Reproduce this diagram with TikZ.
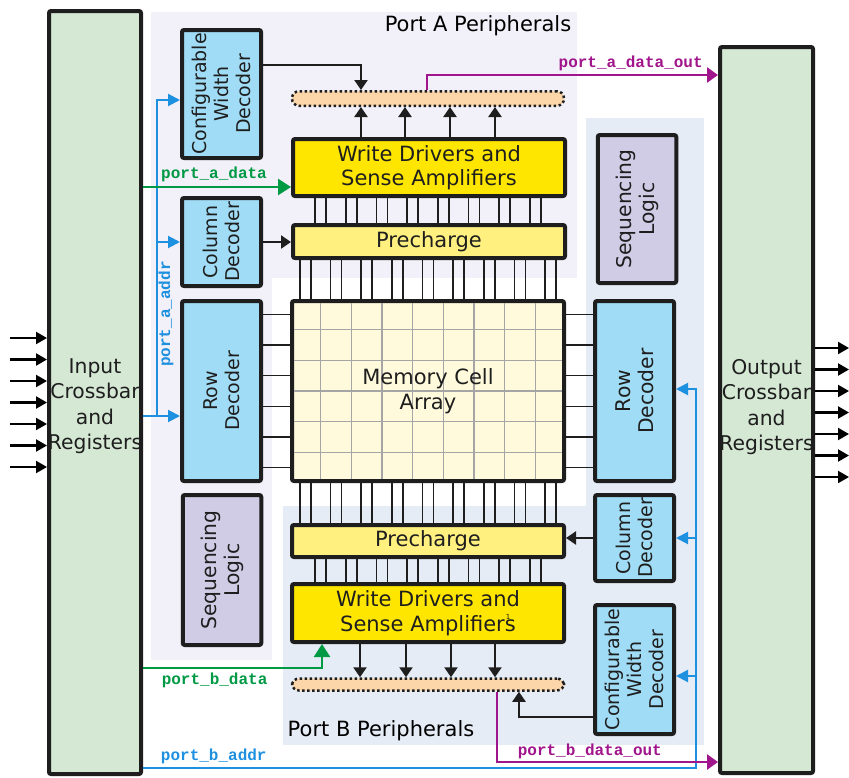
\documentclass[tikz,border=0pt]{standalone}
\usepackage{fontspec}
\setmainfont{DejaVu Sans}
\setmonofont{Liberation Mono}
\usepackage{tikz}
\usetikzlibrary{arrows.meta}
\definecolor{mydark}{RGB}{30,30,30}
\definecolor{xbarfill}{RGB}{213,232,212}
\definecolor{decfill}{RGB}{160,220,245}
\definecolor{seqfill}{RGB}{208,204,230}
\definecolor{wdfill}{RGB}{255,230,0}
\definecolor{prefill}{RGB}{255,240,128}
\definecolor{cellfill}{RGB}{255,250,220}
\definecolor{busfill}{RGB}{252,213,168}
\definecolor{hdrporta}{RGB}{242,240,248}
\definecolor{hdrportb}{RGB}{230,236,246}
\definecolor{mygreen}{RGB}{0,153,68}
\definecolor{myblue}{RGB}{30,144,224}
\definecolor{mymagenta}{RGB}{160,20,140}
\definecolor{gridgray}{RGB}{165,165,165}
\newcommand{\bigfont}{\fontsize{21}{24.5}\selectfont}
\newcommand{\xbarfont}{\fontsize{20.3}{25.5}\selectfont}
\newcommand{\decfont}{\fontsize{19}{22}\selectfont}
\newcommand{\seqfont}{\fontsize{20.3}{23}\selectfont}
\newcommand{\sigfont}{\fontsize{16}{16}\selectfont\ttfamily\bfseries}
\tikzset{
  box/.style={rectangle, draw=mydark, line width=4pt, rounded corners=2pt, inner sep=0pt},
  xbar/.style={box, fill=xbarfill},
  xbartext/.style={align=center, font=\xbarfont, text=mydark},
  decoder/.style={box, fill=decfill, minimum width=79pt},
  seqblock/.style={box, fill=seqfill, minimum width=78.5pt},
  dectext/.style={rotate=90, align=center, font=\decfont, text=mydark},
  wdblock/.style={box, fill=wdfill, minimum width=272pt, minimum height=57pt,
    align=center, font=\bigfont, text=mydark},
  preblock/.style={box, fill=prefill, minimum width=272pt, minimum height=33pt,
    font=\bigfont, text=mydark},
  cellblock/.style={box, fill=cellfill, minimum width=272pt, minimum height=180pt},
  busbar/.style={rectangle, draw=mydark, line width=2.5pt, dash pattern=on 2.5pt off 2.5pt,
    fill=busfill, rounded corners=7pt, minimum width=272pt, minimum height=14.5pt, inner sep=0pt},
  arrow/.style={-{Triangle[length=10pt,width=13pt]}, line width=2.2pt, color=mydark},
  inarrow/.style={-{Triangle[length=11pt,width=12pt]}, line width=2.2pt, color=black},
  greenarrow/.style={-{Triangle[length=13pt,width=16pt]}, line width=2.5pt, color=mygreen},
  bluearrow/.style={-{Triangle[length=12pt,width=12pt]}, line width=2pt, color=myblue},
  magarrow/.style={-{Triangle[length=11pt,width=15pt]}, line width=2.5pt, color=mymagenta},
  bitline/.style={line width=1.5pt, color=mydark},
  gridline/.style={line width=1.5pt, color=gridgray, shorten <=4pt, shorten >=4pt},
  sig/.style={font=\sigfont, inner sep=1pt},
  hdr/.style={font=\bigfont, text=black}
}
\begin{document}
\begin{tikzpicture}[x=1pt, y=-1pt]
  \useasboundingbox (0,0) rectangle (849,777);

  % Port backgrounds
  \fill[hdrporta] (151,12) rectangle (577,278);
  \fill[hdrporta] (151,12) rectangle (272,660);
  \fill[hdrportb] (283,506) rectangle (704,745);
  \fill[hdrportb] (586,118) rectangle (704,745);
  \node[hdr] (portalbl) at (478,26) {Port A Peripherals};
  \node[hdr] (portblbl) at (381,731) {Port B Peripherals};

  % Crossbars
  \node[xbar, minimum width=92pt, minimum height=763pt,
    label={[xbartext, yshift=-13.5pt]center:{Input\\Crossbar\\and\\Registers}}] (inp) at (95,392.5) {};
  \node[xbar, minimum width=93pt, minimum height=726pt,
    label={[xbartext, yshift=3pt]center:{Output\\Crossbar\\and\\Registers}}] (outp) at (766.5,410) {};

  % Port A decoders
  \node[decoder, minimum height=128pt,
    label={[dectext]center:{Configurable\\Width\\Decoder}}] (cwda) at (221.5,94) {};
  \node[decoder, minimum height=88pt,
    label={[dectext]center:{Column\\Decoder}}] (cola) at (221.5,242) {};
  \node[decoder, minimum height=180pt,
    label={[dectext]center:{Row\\Decoder}}] (rowa) at (221.5,391) {};
  \node[seqblock, minimum height=150pt,
    label={[dectext, font=\seqfont]center:{Sequencing\\Logic}}] (seqa) at (222,570) {};

  % Port B decoders
  \node[seqblock, minimum height=148pt,
    label={[dectext, font=\seqfont]center:{Sequencing\\Logic}}] (seqb) at (637,209) {};
  \node[decoder, minimum height=180pt,
    label={[dectext, font=\seqfont]center:{Row\\Decoder}}] (rowb) at (634.5,391) {};
  \node[decoder, minimum height=86pt,
    label={[dectext]center:{Column\\Decoder}}] (colb) at (634.5,538) {};
  \node[decoder, minimum height=129pt,
    label={[dectext]center:{Configurable\\Width\\Decoder}}] (cwdb) at (634.5,669.5) {};

  % Array and column circuits
  \node[busbar] (busa) at (428,98.5) {};
  \node[wdblock] (wda) at (429,167.5) {Write Drivers and\\Sense Amplifiers};
  \node[preblock] (prea) at (429,241.5) {Precharge};
  \node[cellblock] (mem) at (428,391) {};
  \node[preblock, minimum height=32pt] (preb) at (428,541) {Precharge};
  \node[wdblock, minimum height=58pt] (wdb) at (428,613) {Write Drivers and\\Sense Amplifiers};
  \node[busbar, minimum height=12pt] (busb) at (428,684.5) {};
  \node[font=\fontsize{7}{7}\selectfont, text=mydark, inner sep=0pt] (fnmark) at (508,617) {1};

  % Cell grid
  \foreach \x in {320.7,351.3,382,412.7,443.3,474,504.7,535.3}
    \draw[gridline] (mem.north -| \x,0) -- (mem.south -| \x,0);
  \foreach \y in {329.7,360.3,391,421.7,452.3}
    \draw[gridline] (mem.west |- 0,\y) -- (mem.east |- 0,\y);
  \node[font=\bigfont, align=center, text=mydark] (memlbl) at (mem) {Memory Cell\\Array};

  % Word lines
  \foreach \y in {314.3,345,375.7,406.3,437,467.7} {
    \draw[bitline] (rowa.east |- 0,\y) -- (mem.west |- 0,\y);
    \draw[bitline] (mem.east |- 0,\y) -- (rowb.west |- 0,\y);
  }

  % Bit lines
  \foreach \x [evaluate=\x as \xl using \x-5.5, evaluate=\x as \xr using \x+5.5]
      in {305.3,336,366.7,397.3,428,458.7,489.3,520,550.7} {
    \draw[bitline] (prea.south -| \xl,0) -- (mem.north -| \xl,0);
    \draw[bitline] (prea.south -| \xr,0) -- (mem.north -| \xr,0);
    \draw[bitline] (mem.south -| \xl,0) -- (preb.north -| \xl,0);
    \draw[bitline] (mem.south -| \xr,0) -- (preb.north -| \xr,0);
  }
  \foreach \x [evaluate=\x as \xl using \x-5.5, evaluate=\x as \xr using \x+5.5]
      in {320.7,351.3,382,412.7,443.3,474,504.7,535.3} {
    \draw[bitline] (wda.south -| \xl,0) -- (prea.north -| \xl,0);
    \draw[bitline] (wda.south -| \xr,0) -- (prea.north -| \xr,0);
    \draw[bitline] (preb.south -| \xl,0) -- (wdb.north -| \xl,0);
    \draw[bitline] (preb.south -| \xr,0) -- (wdb.north -| \xr,0);
  }

  % Data to and from the buses
  \foreach \x in {361,405,450,495}
    \draw[arrow] (wda.north -| \x,0) -- (busa.south -| \x,0);
  \foreach \x in {360,406,451,495}
    \draw[arrow] (wdb.south -| \x,0) -- (busb.north -| \x,0);
  \draw[arrow] (cwda.east |- 0,65) -| (busa.north -| 361,0);
  \draw[arrow] (cwdb.west |- 0,717) -| (busb.south -| 519,0);
  \draw[arrow] (cola.east) -- (cola.east -| prea.west);
  \draw[arrow] (colb.west) -- (colb.west -| preb.east);

  % Port A signals
  \coordinate (aaddr) at (157,416);
  \draw[bluearrow] (inp.east |- aaddr) -- (rowa.west |- aaddr);
  \draw[bluearrow] (aaddr) |- (cwda.west |- 0,100);
  \draw[bluearrow] (aaddr |- cola.west) -- (cola.west);
  \node[sig, rotate=90, text=myblue] (aaddrlbl) at (166,314) {port\_a\_addr};
  \draw[greenarrow] (inp.east |- 0,187) -- node[sig, above, yshift=3pt, pos=0.48, text=mygreen] (adatalbl) {port\_a\_data} (wda.west |- 0,187);
  \draw[magarrow] (busa.north -| 427,0) |- node[sig, above, yshift=2pt, pos=0.85, text=mymagenta] (aoutlbl) {port\_a\_data\_out} (outp.west |- 0,75);

  % Port B signals
  \coordinate (baddr) at (696,768);
  \draw[bluearrow] (inp.east |- baddr) -- node[sig, above, yshift=2pt, pos=0.128, text=myblue] (baddrlbl) {port\_b\_addr} (baddr) |- (rowb.east |- 0,389);
  \draw[bluearrow] (baddr |- colb.east) -- (colb.east);
  \draw[bluearrow] (baddr |- 0,676) -- (cwdb.east |- 0,676);
  \draw[greenarrow] (inp.east |- 0,668) -| node[sig, below, yshift=-3pt, pos=0.2, text=mygreen] (bdatalbl) {port\_b\_data} (wdb.south -| 322,0);
  \draw[magarrow] (busb.south -| 497,0) |- node[sig, above, yshift=1pt, pos=0.71, text=mymagenta] (boutlbl) {port\_b\_data\_out} (outp.west |- 0,762);

  % Crossbar ports
  \foreach \y [count=\i] in {338,359.5,381,402.5,424,445.5,467} {
    \coordinate (in\i) at (10,\y);
    \draw[inarrow] (in\i) -- (inp.west |- in\i);
  }
  \foreach \y [count=\i] in {348,369.5,391,412.5,434,455.5,477} {
    \coordinate (out\i) at (849,\y);
    \draw[inarrow] (outp.east |- out\i) -- (out\i);
  }
\end{tikzpicture}
\end{document}
